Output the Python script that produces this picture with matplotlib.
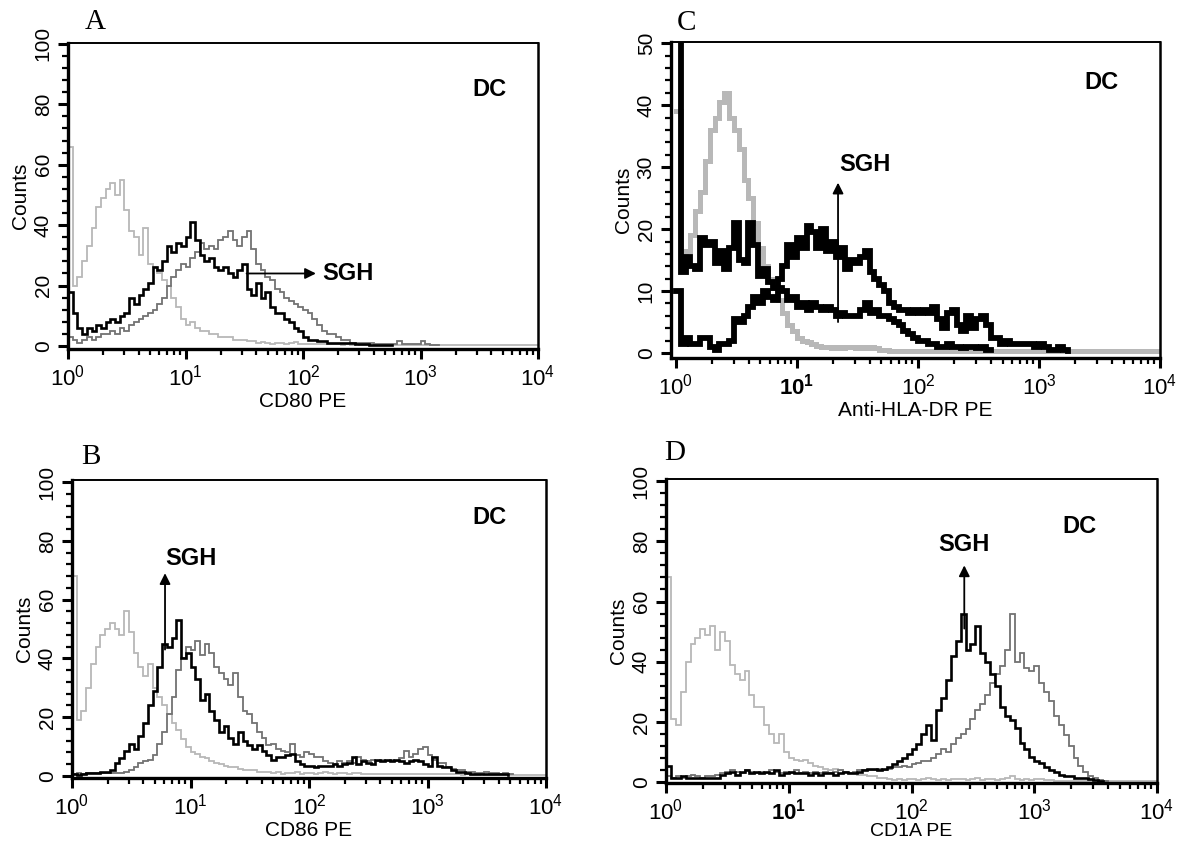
import matplotlib
matplotlib.use("Agg")
import matplotlib.pyplot as plt
import numpy as np
from matplotlib.ticker import FixedLocator, MultipleLocator, LogLocator, NullFormatter

W_PX, H_PX = 1177, 844
BIN_STEP = 0.04  # channel width in decades (log10 units), first channel at 10^0

# ---- panel A: CD80 PE ----
A_CONTROL = [
    66, 20, 23, 28, 33, 39, 46, 49, 52, 54,
    50, 55, 45, 38, 36, 30, 39, 27, 26, 24,
    22, 20, 16, 13, 9, 7, 8, 6, 5, 5,
    4, 4, 3, 3, 3, 2, 2, 2, 1.5, 1.5,
    1, 1.2, 1, 0.8, 1, 1, 0.8, 1, 1.2, 0.8,
    0.8, 0.6, 0.5, 0.6, 0.5, 0.5, 0.6, 0.5, 0.4, 0.5,
    0.4, 0.5, 0.3, 0.4, 0.3, 0.3, 0.3, 0.3, 0.3, 0.3,
    0.3, 0.3, 0.3, 0.3, 0.3, 0.3, 0.3, 0.3, 0.3, 0.3,
    0.3, 0.3, 0.3, 0.3, 0.3, 0.3, 0.3, 0.3, 0.3, 0.3,
    0.3, 0.3, 0.3, 0.3, 0.3, 0.3, 0.3, 0.3, 0.3, 0.3,
    0.3,
]
A_DC = [
    3, 2, 1, 2, 3, 2, 3, 4, 4, 5,
    4, 6, 5, 7, 8, 9, 10, 11, 12, 14,
    16, 20, 23, 25, 27, 26, 29, 31, 34, 32,
    33, 32, 35, 36, 38, 35, 33, 36, 38, 32,
    27, 25, 23, 22, 19, 18, 16, 15, 14, 13,
    12, 11, 9, 7, 5, 4, 4, 3, 2, 2,
    1, 1, 1, 1, 1, 0.5, 0.8, 0.5, 0.5, 0.5,
    1.5, 0.5, 0.5, 0.5, 0.5, 1.5, 0.5, 0.3, 0.3, 0.3,
]
A_SGH = [
    18, 11, 6, 4, 6, 5, 7, 6, 8, 9,
    8, 10, 11, 16, 14, 17, 19, 21, 26, 25,
    28, 33, 31, 34, 33, 36, 41, 35, 30, 28,
    29, 26, 25, 26, 24, 23, 25, 27, 19, 17,
    21, 16, 18, 13, 11, 11, 9, 8, 6, 5,
    3, 2, 2, 1.5, 1.5, 1, 1, 1, 1, 1,
    1, 0.5, 0.5, 0.5, 0.3, 0.3, 0.3, 0.3, 0.3, 0.3,
]

# ---- panel B: CD86 PE ----
B_CONTROL = [
    68, 19, 22, 30, 38, 44, 48, 50, 52, 50,
    48, 56, 49, 42, 37, 34, 38, 30, 27, 24,
    21, 18, 15.5, 12.5, 10, 8, 7.5, 6.5, 6, 5,
    4.5, 4, 3.5, 3, 3, 2.5, 2, 2, 2, 1.5,
    1.5, 1.2, 1, 1.2, 0.8, 1, 1, 1.2, 0.8, 1,
    1, 0.8, 1, 1.2, 1, 0.8, 1, 1, 0.8, 1,
    1, 0.8, 0.6, 0.5, 0.6, 0.5, 0.5, 0.6, 0.5, 0.5,
    0.5, 0.6, 0.5, 0.5, 0.8, 0.5, 0.5, 0.6, 0.5, 0.5,
    0.5, 0.5, 0.4, 0.5, 0.4, 0.4, 0.5, 0.4, 0.4, 0.4,
    0.3, 0.3, 0.3, 0.3, 0.3, 0.3, 0.3, 0.3, 0.3, 0.3,
    0.3,
]
B_DC = [
    0.5, 1, 0.5, 1, 1, 1, 1, 1, 1, 1,
    1, 1.5, 2, 3, 4.5, 5, 5.5, 7, 11, 15,
    21, 27, 36, 40, 44, 43, 46, 41, 45, 42,
    37, 35, 33, 31, 35, 27, 22, 21, 18, 15,
    13, 10.5, 11, 9, 8.5, 8, 11, 7, 6.5, 8,
    7.5, 6.5, 6.5, 5, 4.5, 4, 5, 4.5, 5, 4.5,
    6.5, 5.5, 5, 5.5, 5, 5.5, 5, 5.5, 5, 6,
    8.5, 6.5, 7.5, 9, 10, 7, 5.5, 4.5, 4.5, 3,
    2.5, 2, 2, 1.5, 1.5, 1, 1, 1.2, 1, 1,
    0.8, 1, 0.8, 0.5,
]
B_SGH = [
    0.5, 0.3, 0.5, 1, 1, 1, 1.5, 1.5, 2, 4.5,
    6, 8.5, 11, 9, 13.5, 18, 24, 29, 37, 45,
    44, 47, 53, 40, 42, 37, 33, 26, 28, 22,
    19, 15, 17, 13, 11, 15, 12, 10.5, 9, 10.5,
    8.5, 7, 5.5, 6.5, 6.5, 7, 7.5, 5, 4, 3.5,
    3.5, 3, 3.5, 3.5, 3.5, 4, 3.5, 4, 4.5, 6.5,
    4, 5, 4.5, 4, 5.5, 5, 5.5, 5, 5.5, 5,
    4.5, 5, 5.5, 5, 4, 3.5, 6.5, 3.5, 3, 3,
    2, 1.5, 1.2, 1, 0.8, 0.7, 0.6, 0.5, 0.5, 0.5,
    0.5, 0.5, 0.4,
]

# ---- panel C: Anti-HLA-DR PE ----
C_CONTROL = [
    39, 15, 16.5, 19, 23, 26, 31, 36, 38, 40.5,
    42, 38, 36, 33, 28, 25, 21, 17, 14, 12,
    10.5, 8.5, 6.5, 4.5, 3.5, 2.5, 2, 1.8, 1.5, 1.2,
    1, 1, 0.8, 1, 0.8, 1, 1, 0.8, 1, 0.8,
    1, 0.8, 0.5, 0.5, 0.4, 0.4, 0.3, 0.3, 0.3, 0.3,
    0.3, 0.3, 0.3, 0.3, 0.3, 0.3, 0.3, 0.3, 0.3, 0.3,
    0.3, 0.3, 0.3, 0.3, 0.3, 0.3, 0.3, 0.3, 0.3, 0.3,
    0.3, 0.3, 0.3, 0.3, 0.3, 0.3, 0.3, 0.3, 0.3, 0.3,
    0.3, 0.3, 0.3, 0.3, 0.3, 0.3, 0.3, 0.3, 0.3, 0.3,
    0.3, 0.3, 0.3, 0.3, 0.3, 0.3, 0.3, 0.3, 0.3, 0.3,
    0.3,
]
C_LOW = [  # population high at the low end
    52, 13, 15.5, 14, 13.5, 18.5, 17.5, 18, 14.5, 16.5,
    13.5, 17, 21, 15, 14.5, 21, 17.5, 12.5, 13.5, 11.5,
    10.5, 10.5, 10, 8.5, 9, 7.5, 8, 7, 8, 7.5,
    7, 7.5, 7, 6, 6.5, 6, 6, 6, 7, 8,
    6.5, 7, 6, 6, 5.5, 5, 4.5, 3.5, 3, 2.5,
    2, 2, 1.5, 1.5, 1, 1, 1.5, 1, 1, 0.8,
    1, 1, 0.8, 1, 0.5, 0.5,
]
C_SGH = [
    10, 1.5, 2.5, 1.5, 1.5, 2.5, 2.5, 1, 0.5, 1.5,
    1.5, 2, 5.5, 5, 6, 7.5, 9, 8, 10, 9,
    8.5, 12, 14, 17.5, 15.5, 18.5, 17, 20.5, 19.5, 17,
    20, 16.5, 18, 15.5, 17, 13.5, 15, 14.5, 15.5, 16.5,
    13, 12, 11, 10, 8, 7.5, 7, 7, 6.5, 7,
    6.5, 7, 6.5, 7.5, 5.5, 4, 6.5, 7, 4.5, 3.5,
    6, 4, 5.5, 6, 4.5, 2.5, 2.5, 1.5, 2, 1.5,
    1.5, 1.5, 1.5, 1.5, 1, 1.5, 1, 0.5, 0.5, 1,
    0.5, 0.3,
]

# ---- panel D: CD1A PE ----
D_CONTROL = [
    68, 21, 19, 30, 40, 46, 48, 51, 49, 52,
    44, 50, 47, 39, 36, 34, 37, 29, 25, 25,
    19, 16, 13, 16, 10, 8, 7.5, 7, 7.5, 6.5,
    5.5, 5, 4.5, 4, 4.5, 4, 3.5, 3, 3, 2.5,
    2.5, 2, 2, 1.5, 1.2, 1, 0.8, 1, 0.8, 1,
    1, 0.8, 1, 1.2, 1, 0.8, 1, 0.8, 1, 1,
    1, 0.8, 1, 1.2, 0.8, 1, 1, 0.8, 1, 1.5,
    2, 1, 0.8, 1, 0.8, 1, 1, 0.8, 0.6, 0.5,
    0.5, 0.5, 0.4, 0.5, 0.4, 0.4, 0.4, 0.3, 0.3, 0.3,
    0.3, 0.3, 0.3, 0.3, 0.3, 0.3, 0.3, 0.3, 0.3, 0.3,
    0.3,
]
D_DC = [
    2, 1.5, 2, 1.5, 2, 2.5, 2, 1.5, 2, 2,
    2.5, 3, 3.5, 4, 3.5, 3, 4, 3.5, 3, 3.5,
    3, 4, 3.5, 3, 3.5, 3, 4, 3, 3.5, 3,
    3.5, 3, 3.5, 3, 3.5, 4, 3.5, 3, 3.5, 4,
    4, 4, 4, 4.5, 4, 4.5, 5, 5, 5.5, 5,
    6, 6.5, 7, 7, 8, 9.5, 11, 10, 12.5, 14.5,
    16, 17.5, 21, 24, 26, 29, 33, 36, 38.5, 44,
    56, 40, 43, 38, 37, 38.5, 33, 30, 27, 22,
    19, 15.5, 12, 8, 5.5, 3.5, 2, 1.2, 0.8, 0.5,
    0.3,
]
D_SGH = [
    5.5, 1.5, 1.5, 2, 1.5, 1.5, 1.5, 1.5, 1.5, 1.5,
    1.5, 2.5, 3, 3.5, 2.5, 3.5, 4, 3, 3.5, 3,
    3.5, 3, 4, 2.5, 3, 3.5, 3, 3, 3, 2.5,
    3, 2.5, 3, 3, 2.5, 3, 3.5, 3, 3, 3.5,
    4, 4.5, 4.5, 4, 4.5, 5, 6, 7, 8, 9.5,
    11, 12.5, 16, 19, 14, 24, 28, 34, 42, 47,
    56, 44, 46, 52, 43, 40, 36, 32, 25, 22,
    20.5, 18, 13, 11, 8.5, 7, 6.5, 5, 4, 3.5,
    2.5, 2, 2, 1.5, 1.5, 1.2, 1, 0.8, 0.5, 0.3,
]

DECADES = [1, 10, 100, 1000, 10000]
DECADE_LABELS = [r"$\mathregular{10^{%d}}$" % k for k in range(5)]

CONTROL_COLOR = "#b8b8b8"
DC_COLOR = "#727272"
SANS = ["Liberation Sans", "DejaVu Sans"]


def fig_rect(left, top, right, bottom):
    return [left / W_PX, 1 - bottom / H_PX, (right - left) / W_PX, (bottom - top) / H_PX]


def channel_x(values):
    return 10 ** (np.arange(len(values)) * BIN_STEP)


def draw_hist(ax, values, color, lw):
    ax.step(channel_x(values), values, where="post", color=color, lw=lw, solid_joinstyle="miter")


def style_panel(ax, ylim, ymajor, yminor, xlabel, xlim_lo=1.0, bold_decades=(),
                xlabel_pad=1, xlabel_size=15):
    ax.set_xscale("log")
    ax.set_xlim(xlim_lo, 1e4)
    ax.set_ylim(*ylim)
    ax.xaxis.set_major_locator(FixedLocator(DECADES))
    ax.set_xticklabels(DECADE_LABELS)
    ax.xaxis.set_minor_locator(LogLocator(base=10, subs=np.arange(2, 10)))
    ax.xaxis.set_minor_formatter(NullFormatter())
    ax.yaxis.set_major_locator(MultipleLocator(ymajor))
    ax.yaxis.set_minor_locator(MultipleLocator(yminor))
    ax.tick_params(axis="both", which="major", direction="out", length=7, width=2.2, color="black")
    ax.tick_params(axis="both", which="minor", direction="out", length=4.5, width=1.6, color="black")
    ax.tick_params(axis="x", which="major", labelsize=16, pad=4)
    ax.tick_params(axis="y", which="major", labelsize=15, pad=4, labelrotation=90)
    for lab in ax.get_yticklabels():
        lab.set_va("center")
        lab.set_family(SANS)
    for k, lab in enumerate(ax.get_xticklabels()):
        lab.set_family(SANS)
        if k in bold_decades:
            lab.set_fontweight("bold")
    ax.spines["left"].set_linewidth(2.4)
    ax.spines["bottom"].set_linewidth(2.4)
    ax.spines["top"].set_linewidth(1.4)
    ax.spines["right"].set_linewidth(1.8)
    ax.set_ylabel("Counts", fontsize=15, family=SANS, labelpad=3)
    ax.set_xlabel(xlabel, fontsize=xlabel_size, family=SANS, labelpad=xlabel_pad)


def arrow(ax, start, end):
    ax.annotate("", xy=end, xytext=start,
                arrowprops=dict(arrowstyle="-|>", color="black", lw=1.3, mutation_scale=16,
                                shrinkA=0, shrinkB=0))


def label(ax, xy, text, ha="center"):
    ax.text(xy[0], xy[1], text, fontsize=17, fontweight="bold", family=SANS, ha=ha, va="center")


fig = plt.figure(figsize=(W_PX / 100, H_PX / 100), dpi=100)
fig.patch.set_facecolor("white")

# A
axA = fig.add_axes(fig_rect(68, 43, 538, 349))
draw_hist(axA, A_CONTROL, CONTROL_COLOR, 1.3)
draw_hist(axA, A_DC, DC_COLOR, 1.3)
draw_hist(axA, A_SGH, "black", 1.9)
style_panel(axA, (-1, 100.3), 20, 4, "CD80 PE")
arrow(axA, (10 ** 1.52, 24), (10 ** 2.11, 24))
label(axA, (10 ** 2.16, 24), "SGH", ha="left")
label(axA, (10 ** 3.59, 85), "DC")

# B
axB = fig.add_axes(fig_rect(72, 480, 546, 778))
draw_hist(axB, B_CONTROL, CONTROL_COLOR, 1.3)
draw_hist(axB, B_DC, DC_COLOR, 1.3)
draw_hist(axB, B_SGH, "black", 1.9)
style_panel(axB, (-0.7, 100.7), 20, 4, "CD86 PE")
arrow(axB, (10 ** 0.785, 43), (10 ** 0.785, 69))
label(axB, (10 ** 1.0, 74), "SGH")
label(axB, (10 ** 3.52, 88), "DC")

# C
axC = fig.add_axes(fig_rect(671, 42, 1160, 358))
draw_hist(axC, C_CONTROL, CONTROL_COLOR, 3.6)
draw_hist(axC, C_LOW, "black", 4.2)
draw_hist(axC, C_SGH, "black", 4.2)
style_panel(axC, (-0.8, 50.2), 10, 2, "Anti-HLA-DR PE", xlim_lo=10 ** -0.04, bold_decades=(1,))
arrow(axC, (10 ** 1.34, 5), (10 ** 1.34, 27.5))
label(axC, (10 ** 1.56, 30.5), "SGH")
label(axC, (10 ** 3.52, 43.7), "DC")

# D (its x label sits right at the bottom edge of the figure)
axD = fig.add_axes(fig_rect(666, 479, 1157, 783))
draw_hist(axD, D_CONTROL, CONTROL_COLOR, 1.3)
draw_hist(axD, D_DC, DC_COLOR, 1.3)
draw_hist(axD, D_SGH, "black", 1.9)
style_panel(axD, (-0.3, 100.7), 20, 4, "CD1A PE", bold_decades=(1,), xlabel_pad=-1, xlabel_size=14)
arrow(axD, (10 ** 2.43, 51), (10 ** 2.43, 72))
label(axD, (10 ** 2.43, 79), "SGH")
label(axD, (10 ** 3.37, 85), "DC")

# panel letters
for ax, letter, pos in [(axA, "A", (0.057, 1.07)), (axC, "C", (0.031, 1.06)),
                        (axB, "B", (0.04, 1.077)), (axD, "D", (0.018, 1.085))]:
    ax.text(pos[0], pos[1], letter, transform=ax.transAxes, fontsize=21,
            family=["Liberation Serif", "DejaVu Serif"], ha="center", va="center")

fig.savefig("out.png", dpi=100, facecolor="white")
